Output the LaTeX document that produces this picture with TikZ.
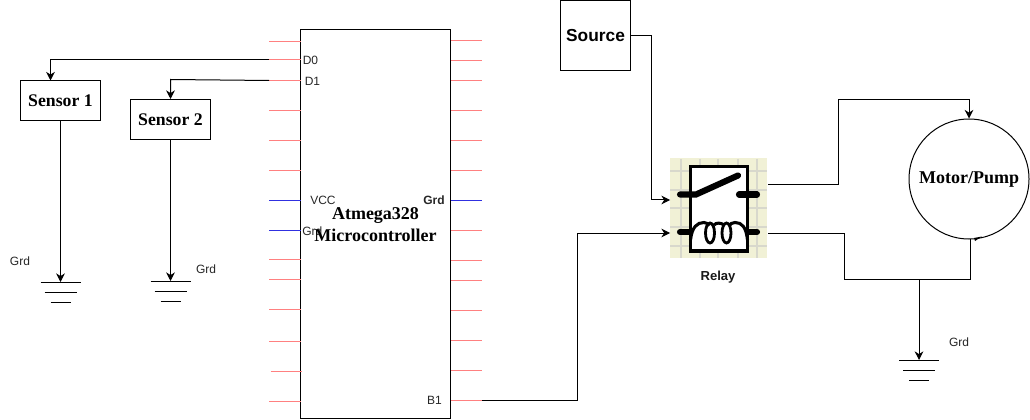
\documentclass[tikz,border=0pt]{standalone}
\usepackage{fontspec}
\setmainfont{Liberation Sans}
\newfontfamily\serifb{Liberation Serif}
\usetikzlibrary{arrows.meta,calc}
\definecolor{pinpink}{HTML}{FF8080}
\definecolor{pinblu}{HTML}{3030E0}
\definecolor{relaybg}{HTML}{F1F1D6}
\definecolor{relaygridc}{HTML}{D8D8CC}
\tikzset{
  x=0.75pt,y=-0.75pt,
  wire/.style={draw=black,line width=0.75pt},
  arrowwire/.style={wire,-{Stealth[length=6.5pt,width=6.5pt]}},
  boxnode/.style={draw=black,line width=0.75pt,minimum width=60pt,minimum height=30pt,inner sep=0pt,font=\serifb\bfseries\fontsize{13.3}{15}\selectfont},
  grdline/.style={draw=black,line width=0.5pt},
  lbl/.style={inner sep=0pt,font=\fontsize{9}{10}\selectfont,text=black!85},
  relaystroke/.style={draw=black,line width=2.3pt},
  relaythick/.style={draw=black,line width=4.6pt,line cap=round},
  relaygrid/.style={draw=relaygridc,line width=1.2pt},
  pinpinkline/.style={draw=pinpink,line width=0.8pt},
  pinblueline/.style={draw=pinblu,line width=0.8pt},
}
\newcommand{\grdsym}[1]{%
  \draw[grdline] ($(#1)+(-20,0)$) -- ($(#1)+(20,0)$);
  \draw[grdline] ($(#1)+(-16,10)$) -- ($(#1)+(16,10)$);
  \draw[grdline] ($(#1)+(-10,20)$) -- ($(#1)+(10,20)$);
}
\begin{document}
\begin{tikzpicture}
\useasboundingbox (0,0) rectangle (1030,420);
% chip
\node[draw=black,line width=0.75pt,minimum width=112.5pt,minimum height=292pt,inner sep=0pt] (chip) at (375.5,224) {};
% pins
\foreach \py in {41.5,59.5,80.5,110.5,140.5,170.5,259.5,279.5,309.5,341.5,401.5}{
  \draw[pinpinkline] (269,\py) -- (300.5,\py);
}
\draw[pinpinkline] (270.5,371.5) -- (301.5,371.5);
\foreach \py in {40.5,60.5,80.5,110.5,140.5,170.5,230.5,260.5,280.5,310.5,340.5,370.5,400.5}{
  \draw[pinpinkline] (450.5,\py) -- (482,\py);
}
\draw[pinblueline] (269,200.5) -- (300.5,200.5);
\draw[pinblueline] (269,230.5) -- (300.5,230.5);
\draw[pinblueline] (450.5,200.5) -- (482,200.5);
\coordinate (d0pin) at (269,59.5);
\coordinate (d1pin) at (269,80.5);
\coordinate (b1pin) at (482,400.5);
% pin labels
\node[lbl,anchor=west] (ld0) at (302.5,60.5) {D0};
\node[lbl,anchor=west] (ld1) at (304.5,81.5) {D1};
\node[lbl,anchor=west] (lvcc) at (310,200) {VCC};
\node[lbl,anchor=west] (lgrdl) at (302,231) {Grd};
\node[lbl,anchor=east,font=\fontsize{9}{10}\selectfont\bfseries] (lgrdr) at (445,200) {Grd};
\node[lbl,anchor=east] (lb1) at (442,400.5) {B1};
\node[inner sep=0pt,align=center,font=\serifb\bfseries\fontsize{13.5}{16.5}\selectfont,text=black] (chiplabel) at (375.5,225) {Atmega328\\Microcontroller};
% sensors
\node[boxnode] (s1) at (60.5,100.5) {Sensor 1};
\node[boxnode] (s2) at (170.5,119.5) {Sensor 2};
\coordinate (g1) at (60.5,282);
\coordinate (g2) at (170.5,281);
\coordinate (g3) at (919,360);
\draw[arrowwire] (d0pin) -- (50.5,59.5) -- (50.5,80.5);
\draw[arrowwire] (d1pin) -- (170.5,79.5) -- (s2.north);
\draw[arrowwire] (s1.south) -- (g1);
\draw[arrowwire] (s2.south) -- (g2);
\grdsym{g1}
\grdsym{g2}
\grdsym{g3}
\node[lbl] (lg1) at (20,261) {Grd};
\node[lbl] (lg2) at (206,269) {Grd};
\node[lbl] (lg3) at (959,342) {Grd};
% source
\node[draw=black,line width=0.75pt,minimum width=52.5pt,minimum height=52.5pt,inner sep=0pt,font=\bfseries\fontsize{13}{14}\selectfont] (src) at (595.5,36) {Source};
% relay
\node[fill=relaybg,minimum width=72.75pt,minimum height=74.25pt,inner sep=0pt] (relay) at (718.5,208) {};
\foreach \gx in {681,700,718,738,757}{\draw[relaygrid] (\gx,159) -- (\gx,258);}
\foreach \gy in {171,190,208,227,246}{\draw[relaygrid] (670,\gy) -- (767,\gy);}
\fill[white] (690.5,166.5) rectangle (747.5,251);
\draw[relaystroke] (690.5,166.5) rectangle (747.5,251);
\draw[relaythick] (680,194.5) -- (696,194.5) -- (738,175.5);
\draw[relaythick] (739,194.5) -- (757,194.5);
\draw[relaythick] (680,232) -- (690,232);
\draw[relaythick] (748,232) -- (757,232);
\draw[relaystroke] (690.5,240) .. controls (692,227) and (697,222.5) .. (704,222.5)
  .. controls (707,222.5) and (708,224) .. (709,226);
\draw[relaystroke] (714,225) .. controls (716,222.5) and (721,222.5) .. (724,225);
\draw[relaystroke] (729,226) .. controls (730,224) and (732,222.5) .. (735,222.5)
  .. controls (742,222.5) and (746,227) .. (747.5,240);
\draw[draw=black,line width=2.1pt] (710,233) ellipse [x radius=4.5,y radius=10];
\draw[draw=black,line width=2.1pt] (726.5,233) ellipse [x radius=4.5,y radius=10];
\node[inner sep=0pt,font=\bfseries\fontsize{9.8}{11}\selectfont,text=black!90] (rl) at (718,277.5) {Relay};
% motor
\node[circle,draw=black,line width=0.75pt,minimum size=90pt,inner sep=0pt,font=\serifb\bfseries\fontsize{13.5}{15}\selectfont] (motor) at (969,179) {Motor/Pump};
% connectors
\coordinate (relayin1) at (670,200);
\coordinate (relayin2) at (670,233);
\coordinate (relayout1) at (768,184.5);
\coordinate (relayout2) at (768,233);
\draw[arrowwire] (src.east) -- (651.5,36) -- (651.5,200) -- (relayin1);
\draw[arrowwire] (b1pin) -- (577,400.5) -- (577,233) -- (relayin2);
\draw[arrowwire] (relayout1) -- (838.5,184.5) -- (838.5,99.5) -- (969,99.5) -- (motor.north);
\draw[wire] (relayout2) -- (844.5,233) -- (844.5,279) -- (970.5,279) -- (970.5,239);
\fill (974,238) -- (982,236.5) -- (975,241) -- cycle;
\coordinate (junc) at (919,279);
\draw[arrowwire] (junc) -- (g3);
\end{tikzpicture}
\end{document}
